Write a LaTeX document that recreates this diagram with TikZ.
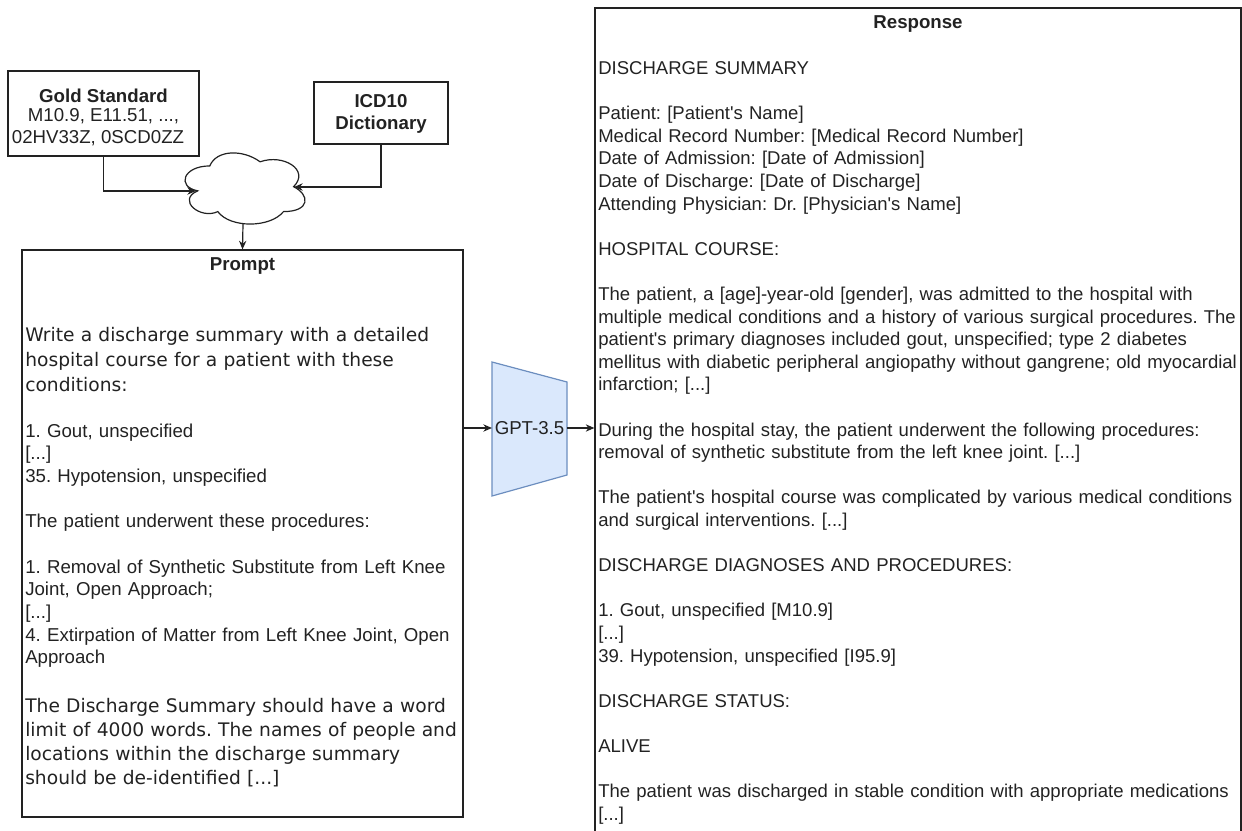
\documentclass[tikz,border=0pt]{standalone}
\usepackage{fontspec}
\setmainfont{Liberation Sans}
\newfontfamily\dejavu{DejaVu Sans}
\usetikzlibrary{arrows.meta,fit}
\definecolor{gptfill}{HTML}{DAE8FC}
\definecolor{gptline}{HTML}{6C8EBF}
\definecolor{ink}{HTML}{222222}
\newcommand\qt{\textquotesingle}
\frenchspacing
\begin{document}
\frenchspacing
\begin{tikzpicture}[x=0.75pt,y=-0.75pt,
  box/.style={draw=ink, line width=0.9pt, inner sep=0},
  arr/.style={draw=ink, line width=0.9pt, -{Stealth[length=6.5pt,width=5.5pt]}},
  txt/.style={inner sep=0, text=ink, font=\fontsize{14}{17}\selectfont},
  btxt/.style={inner sep=0, text=ink, font=\fontsize{14}{17}\selectfont\bfseries},
  para/.style={inner sep=0, text=ink, anchor=base west, text width=520pt, align=left}]
\path[use as bounding box] (0,0) rectangle (1242,831);
\clip (0,0) rectangle (1242,831);

% Gold standard box
\node[box, fit={(8,71) (199,156)}] (gold) {};
\node[btxt, anchor=base] (goldT) at (103.5,102.5) {Gold Standard};
\node[txt, anchor=base] (goldA) at (103.5,121.5) {M10.9, E11.51, ...,};
\node[txt, anchor=base] (goldB) at (98,143.3) {02HV33Z, 0SCD0ZZ};

% ICD10 box
\node[box, fit={(314,82) (448,144)}] (icd) {};
\node[btxt, anchor=base] (icdA) at (381,107.3) {ICD10};
\node[btxt, anchor=base] (icdB) at (381,130) {Dictionary};

% cloud
\node[fit={(183,150) (310,228)}, inner sep=0] (cloud) {};
\draw[draw=ink, line width=0.9pt]
  (209.8,165.95) .. controls (183,165.95) and (176.3,186.7) .. (197.7,190.85)
  .. controls (176.3,200) and (200.4,219.9) .. (217.8,211.6)
  .. controls (229.9,228.2) and (270.1,228.2) .. (283.5,211.6)
  .. controls (310.3,211.6) and (310.3,195) .. (293.6,186.7)
  .. controls (310.3,170.1) and (283.5,153.5) .. (260.05,161.8)
  .. controls (243.3,149.35) and (216.5,149.35) .. (209.8,165.95) -- cycle;
\coordinate (cloudL) at (196,191);
\coordinate (cloudR) at (294,187);
\coordinate (cloudB) at (243,224);

% Prompt box
\node[box, fit={(22,250) (463,817)}] (prompt) {};
\node[btxt, anchor=base] (promptT) at (242.5,270.7) {Prompt};
\node[para, font=\dejavu\fontsize{14}{18.75}\selectfont] (p1) at (25,341.7)
 {Write a discharge summary with a detailed\\hospital course for a patient with these\\conditions:};
\node[para, font=\fontsize{14}{17}\selectfont] (p2) at (25,437.3)
 {1. Gout, unspecified\\
 {[...]}\\
 35. Hypotension, unspecified\\[17pt]
 The patient underwent these procedures:\\[17pt]
 1. Removal of Synthetic Substitute from Left Knee\\
 Joint, Open Approach;\\
 {[...]}\\
 4. Extirpation of Matter from Left Knee Joint, Open\\
 Approach};
\node[para, font=\dejavu\fontsize{14}{18.15}\selectfont] (p3) at (25,712.3)
 {The Discharge Summary should have a word\\limit of 4000 words. The names of people and\\locations within the discharge summary\\should be de-identified [...]};

% GPT
\draw[fill=gptfill, draw=gptline, line width=0.9pt] (492,362) -- (567,382) -- (567,475) -- (492,496) -- cycle;
\node[txt, anchor=base] (gpt) at (529.5,434.7) {GPT-3.5};
\coordinate (gptL) at (492,428);
\coordinate (gptR) at (567,428);

% Response box
\node[box, fit={(595,8) (1241,900)}] (resp) {};
\node[btxt, anchor=base] (respT) at (918,28.5) {Response};
\node[para, font=\fontsize{13.9}{16.95}\selectfont] (r1) at (598,74.5)
 {DISCHARGE SUMMARY\\[16.95pt]
 Patient: [Patient\qt s Name]\\
 Medical Record Number: [Medical Record Number]\\
 Date of Admission: [Date of Admission]\\
 Date of Discharge: [Date of Discharge]\\
 Attending Physician: Dr. [Physician\qt s Name]\\[16.95pt]
 HOSPITAL COURSE:\\[16.95pt]
 The patient, a [age]-year-old [gender], was admitted to the hospital with\\
 multiple medical conditions and a history of various surgical procedures. The\\
 patient\qt s primary diagnoses included gout, unspecified; type 2 diabetes\\
 mellitus with diabetic peripheral angiopathy without gangrene; old myocardial\\
 infarction; [...]\\[16.95pt]
 During the hospital stay, the patient underwent the following procedures:\\
 removal of synthetic substitute from the left knee joint. [...]\\[16.95pt]
 The patient\qt s hospital course was complicated by various medical conditions\\
 and surgical interventions. [...]\\[16.95pt]
 DISCHARGE DIAGNOSES AND PROCEDURES:\\[16.95pt]
 1. Gout, unspecified [M10.9]\\
 {[...]}\\
 39. Hypotension, unspecified [I95.9]\\[16.95pt]
 DISCHARGE STATUS:\\[16.95pt]
 ALIVE\\[16.95pt]
 The patient was discharged in stable condition with appropriate medications\\
 {[...]}};

% connectors
\draw[arr] (gold.south) |- (cloudL);
\draw[arr] (icd.south) |- (cloudR);
\draw[arr] (cloudB) -- (prompt.north);
\draw[arr] (prompt.east |- gptL) -- (gptL);
\draw[arr] (gptR) -- (resp.west |- gptR);
\end{tikzpicture}
\end{document}
